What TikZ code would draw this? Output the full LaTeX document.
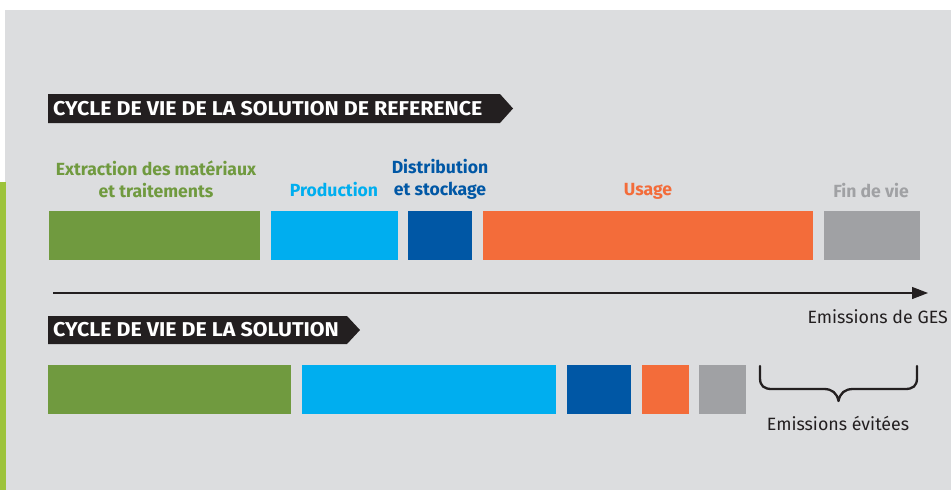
\documentclass[tikz,border=0pt]{standalone}
\usepackage{fontspec}
\setmainfont{Fira Sans}
\newfontfamily\dinbold{Fira Sans}
\newfontfamily\dinwide[FakeStretch=1.07]{Fira Sans}
\usetikzlibrary{arrows.meta}
\definecolor{bg}{HTML}{DCDDDF}
\definecolor{leaf}{HTML}{9DC33B}
\definecolor{cgreen}{HTML}{709A3F}
\definecolor{cblue}{HTML}{00AEEF}
\definecolor{cnavy}{HTML}{0057A5}
\definecolor{corange}{HTML}{F36C3A}
\definecolor{cgrey}{HTML}{A0A1A4}
\definecolor{ink}{HTML}{231F20}
\tikzset{
  bar/.style={rectangle, inner sep=0pt, outer sep=0pt, anchor=north west},
  phase/.style={font=\dinbold\bfseries\fontsize{17.6}{22}\selectfont, align=center, inner sep=0pt},
  banner/.style={font=\dinwide\bfseries\fontsize{20}{22}\selectfont, text=white, anchor=west, inner sep=0pt},
  note/.style={font=\fontsize{17.8}{20}\selectfont, text=ink, inner sep=0pt},
}
\begin{document}
\begin{tikzpicture}[x=1pt, y=-1pt]
  \useasboundingbox (0,0) rectangle (951,490);
  % background panel and side stripe
  \fill[white] (0,0) rectangle (951,490);
  \fill[bg] (5,10) rectangle (951,490);
  \fill[leaf] (0,182) rectangle (6,490);

  % reference life cycle banner
  \fill[ink] (48,94) -- (500,94) -- (513,108.5) -- (500,123) -- (48,123) -- cycle;
  \node[banner] (t1) at (53,108.5) {CYCLE DE VIE DE LA SOLUTION DE REFERENCE};

  % phase labels
  \node[phase, text=cgreen] (l1) at (156,179) {Extraction des matériaux\\et traitements};
  \node[phase, text=cblue] (l2) at (334,190) {Production};
  \node[phase, text=cnavy] (l3) at (440,179) {Distribution\\et stockage};
  \node[phase, text=corange] (l4) at (648,191.5) {Usage};
  \node[phase, text=cgrey] (l5) at (871,190.5) {Fin de vie};

  % reference phase bars
  \node[bar, fill=cgreen, minimum width=211pt, minimum height=49pt] (r1) at (49,211) {};
  \node[bar, fill=cblue, minimum width=127pt, minimum height=49pt] (r2) at (271,211) {};
  \node[bar, fill=cnavy, minimum width=64pt, minimum height=49pt] (r3) at (408,211) {};
  \node[bar, fill=corange, minimum width=330pt, minimum height=49pt] (r4) at (483,211) {};
  \node[bar, fill=cgrey, minimum width=96pt, minimum height=49pt] (r5) at (824,211) {};

  % emissions axis
  \coordinate (ax0) at (53,293);
  \coordinate (ax1) at (928,293);
  \draw[ink, line width=1.3pt, -{Triangle[length=16pt,width=12pt]}] (ax0) -- (ax1);
  \node[note, anchor=east] (ges) at (948,317) {Emissions de GES};

  % solution banner
  \fill[ink] (48,316) -- (347,316) -- (360,330) -- (347,344) -- (48,344) -- cycle;
  \node[banner] (t2) at (53,330) {CYCLE DE VIE DE LA SOLUTION};

  % solution phase bars
  \node[bar, fill=cgreen, minimum width=243pt, minimum height=49pt] (s1) at (48,365) {};
  \node[bar, fill=cblue, minimum width=254pt, minimum height=49pt] (s2) at (302,365) {};
  \node[bar, fill=cnavy, minimum width=64pt, minimum height=49pt] (s3) at (567,365) {};
  \node[bar, fill=corange, minimum width=47pt, minimum height=49pt] (s4) at (642,365) {};
  \node[bar, fill=cgrey, minimum width=47pt, minimum height=49pt] (s5) at (699,365) {};

  % avoided emissions brace
  \draw[ink, line width=2.3pt, line cap=round, line join=round]
    (760,366) -- (760,378) .. controls (760,386) and (764,389) .. (772,389)
    -- (824,389) .. controls (832,389) and (837,393) .. (838.5,401)
    .. controls (840,393) and (845,389) .. (853,389)
    -- (905,389) .. controls (913,389) and (917,386) .. (917,378) -- (917,366);
  \node[note] (av) at (838,423) {Emissions évitées};
\end{tikzpicture}
\end{document}
